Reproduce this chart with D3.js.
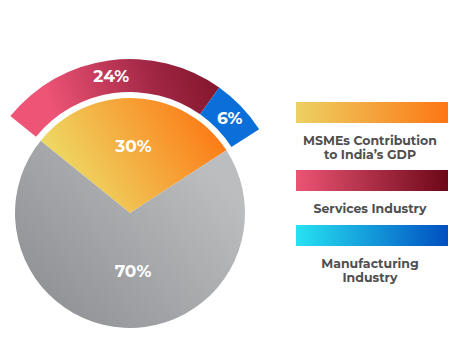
<!DOCTYPE html>
<html><head><meta charset="utf-8">
<script src="https://cdn.jsdelivr.net/npm/d3@7"></script>
<style>body{margin:0;background:#fff}svg{display:block}</style>
</head><body>
<script>
// data
const innerLabels = ["MSMEs Contribution to India's GDP", "Other"];
const innerValues = [30, 70];
const ringLabels = ["Services Industry", "Manufacturing Industry"];
const ringValues = [24, 6];
const legendLabels = [["MSMEs Contribution","to India’s GDP"],["Services Industry"],["Manufacturing","Industry"]];
const legendColors = [["#ecd163","#fd7614"],["#ec5474","#6c0817"],["#27e2f2","#004fc0"]];

const W=454,H=341;
const svg=d3.select("body").append("svg").attr("width",W).attr("height",H);
const defs=svg.append("defs");
function grad(id,stops,x1,y1,x2,y2,units){
  const g=defs.append("linearGradient").attr("id",id)
    .attr("x1",x1).attr("y1",y1).attr("x2",x2).attr("y2",y2);
  if(units) g.attr("gradientUnits","userSpaceOnUse");
  stops.forEach((c,k)=>g.append("stop").attr("offset",(100*k/(stops.length-1))+"%").attr("stop-color",c));
}
const cx=130, cy=213;
grad("gGrey",["#838488","#bcbdbf"],cx-110,cy+100,cx+100,cy-90,true);
grad("gOrange",["#eed662","#fd7512"],cx-40,cy-10,cx+95,cy-95,true);
grad("gRed",["#ee5476","#a02644","#6a0818"],cx-120,cy-55,cx+85,cy-125,true);
grad("gBlue",["#0a6fd8","#004fc0"],cx+85,cy-110,cx+130,cy-60,true);
legendColors.forEach((c,i)=>grad("lg"+i,c,"0%","0%","100%","0%"));

const deg=Math.PI/180;
const start=-51*deg;
const g=svg.append("g").attr("transform",`translate(${cx},${cy})`);

const pieInner=d3.pie().sort(null).startAngle(start).endAngle(start+2*Math.PI)(innerValues);
const arcInner=d3.arc().innerRadius(0).outerRadius(115);
const innerFills=["url(#gOrange)","url(#gGrey)"];
g.selectAll("path.inner").data(pieInner).join("path").attr("class","inner")
  .attr("d",arcInner).attr("fill",(d,i)=>innerFills[i]);

const total=d3.sum(innerValues);
const pieRing=d3.pie().sort(null).startAngle(start)
  .endAngle(start+2*Math.PI*d3.sum(ringValues)/total)(ringValues);
const arcRing=d3.arc().innerRadius(121).outerRadius(154);
const ringFills=["url(#gRed)","url(#gBlue)"];
g.selectAll("path.ring").data(pieRing).join("path").attr("class","ring")
  .attr("d",arcRing).attr("fill",(d,i)=>ringFills[i]);

const lblFont="'Montserrat','Open Sans','Noto Sans',sans-serif";
function pos(a,r){return [r*Math.sin(a), -r*Math.cos(a)];}
const labelData=[];
pieRing.forEach(d=>{const m=(d.startAngle+d.endAngle)/2; labelData.push({p:pos(m,138),t:d.value+"%"});});
{const d=pieInner[0]; const m=(d.startAngle+d.endAngle)/2; labelData.push({p:pos(m,67),t:d.value+"%"});}
{const d=pieInner[1]; labelData.push({p:[3,58],t:d.value+"%"});}
g.selectAll("text.pl").data(labelData).join("text").attr("class","pl")
  .attr("x",d=>d.p[0]).attr("y",d=>d.p[1]).attr("dy","0.36em")
  .attr("text-anchor","middle").attr("fill","#fff")
  .attr("font-family",lblFont).attr("font-weight",700).attr("font-size",17)
  .text(d=>d.t);

// legend
const barTops=[102,170,225];
const lx=296, lw=152, lh=21;
const lg=svg.append("g");
legendLabels.forEach((lines,i)=>{
  lg.append("rect").attr("x",lx).attr("y",barTops[i]).attr("width",lw).attr("height",lh)
    .attr("fill",`url(#lg${i})`);
  lines.forEach((t,j)=>{
    lg.append("text").attr("x",lx+lw/2-2).attr("y",barTops[i]+lh+22+j*13.5)
      .attr("text-anchor","middle").attr("fill","#4f4f4f")
      .attr("font-family",lblFont).attr("font-weight",700).attr("font-size",12.5)
      .text(t);
  });
});
</script>
</body></html>
